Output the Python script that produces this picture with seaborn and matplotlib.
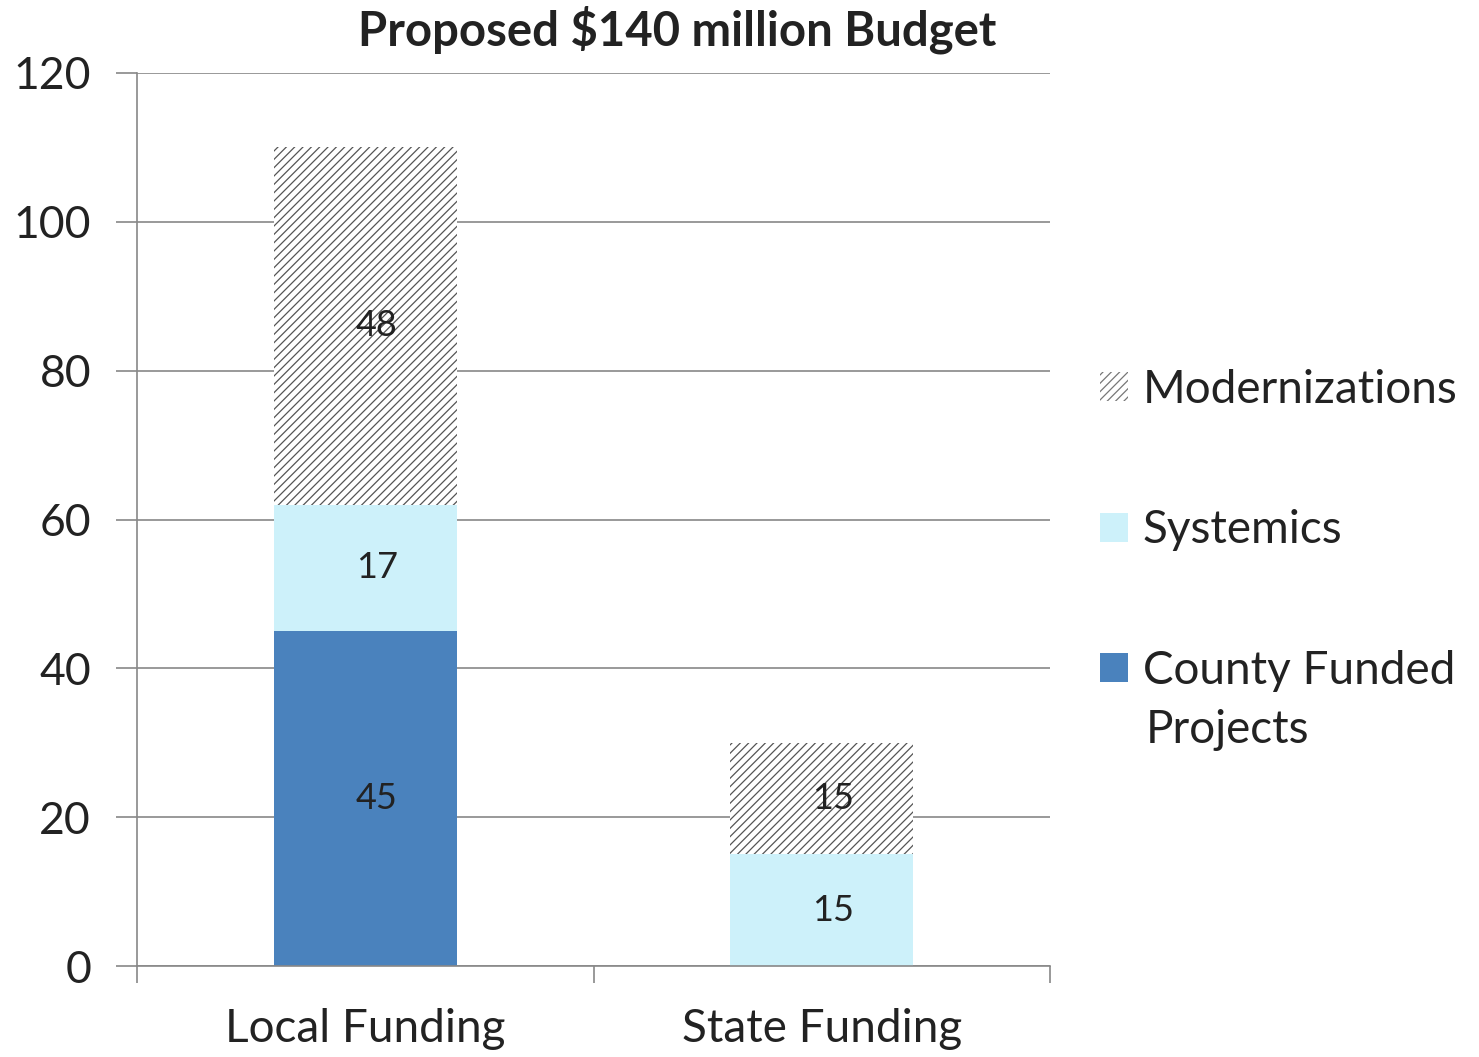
import seaborn as sns
import pandas as pd
import numpy as np
import matplotlib.pyplot as plt
from matplotlib.patches import Patch

categories = ['Local Funding', 'State Funding']
county_funded = [45, 0]
systemics = [17, 15]
modernizations = [48, 15]
y_ticks = [0, 20, 40, 60, 80, 100, 120]
title = 'Proposed $140 million Budget'

sns.set_theme(style="white")
plt.rcParams['font.family'] = ['Lato', 'DejaVu Sans']
plt.rcParams['hatch.linewidth'] = 0.9

df = pd.DataFrame({'cat': categories, 'county': county_funded,
                   'sys': systemics, 'mod': modernizations})

fig = plt.figure(figsize=(14.79, 10.57), dpi=100)
ax = fig.add_axes([0.0926, 0.086, 0.6174, 0.845])

c_county = '#4a82bd'
c_sys = '#cdf1fa'
bottom1 = np.array(county_funded)
bottom2 = bottom1 + np.array(systemics)

sns.barplot(data=df, x='cat', y='county', color=c_county, width=0.4,
            saturation=1, ax=ax, linewidth=0)
sns.barplot(data=df, x='cat', y='sys', color=c_sys, width=0.4,
            saturation=1, ax=ax, linewidth=0, bottom=bottom1)
sns.barplot(data=df, x='cat', y='mod', color='white', width=0.4,
            saturation=1, ax=ax, linewidth=0, bottom=bottom2,
            hatch='////', edgecolor='#555555')

# data labels
for i in range(len(categories)):
    segs = [(0, county_funded[i]), (bottom1[i], systemics[i]), (bottom2[i], modernizations[i])]
    for b, v in segs:
        if v > 0:
            ax.text(i + 0.025, b + v / 2, str(v), ha='center', va='center',
                    fontsize=26, color='#222222')

ax.set_ylim(0, 120)
ax.set_xlim(-0.5, 1.5)
ax.set_yticks(y_ticks)
ax.yaxis.grid(True, color='#888888', linewidth=1.2)
ax.set_axisbelow(True)
ax.set_xlabel('')
ax.set_ylabel('')
ax.tick_params(axis='y', labelsize=32, length=15, color='#888888', width=1.2,
               left=True, pad=18, labelcolor='#222222')
ax.tick_params(axis='x', labelsize=33, length=0, pad=30, labelcolor='#222222')
ax.set_xticks([-0.5, 0.5, 1.5], minor=True)
ax.tick_params(axis='x', which='minor', length=12, color='#888888', width=1.2, bottom=True)
for s in ['top', 'right']:
    ax.spines[s].set_visible(False)
for s in ['left', 'bottom']:
    ax.spines[s].set_color('#888888')
    ax.spines[s].set_linewidth(1.2)

fig.text(0.458, 0.972, title, ha='center', va='center', fontsize=34,
         fontweight='bold', color='#222222')

# legend: single-line entries, second line of the last one added below
handles = [Patch(facecolor='white', hatch='////', edgecolor='#777777', linewidth=0),
           Patch(facecolor=c_sys, linewidth=0),
           Patch(facecolor=c_county, linewidth=0)]
labels = ['Modernizations', 'Systemics', 'County Funded']
leg = fig.legend(handles, labels, loc='upper left', bbox_to_anchor=(0.744, 0.651),
                 frameon=False, fontsize=33, labelspacing=2.15, handlelength=0.6,
                 handleheight=0.6, handletextpad=0.32, borderpad=0,
                 borderaxespad=0, labelcolor='#222222')
fig.text(0.7745, 0.309, 'Projects', ha='left', va='center', fontsize=33,
         color='#222222')

fig.savefig('out.png', dpi=100)
